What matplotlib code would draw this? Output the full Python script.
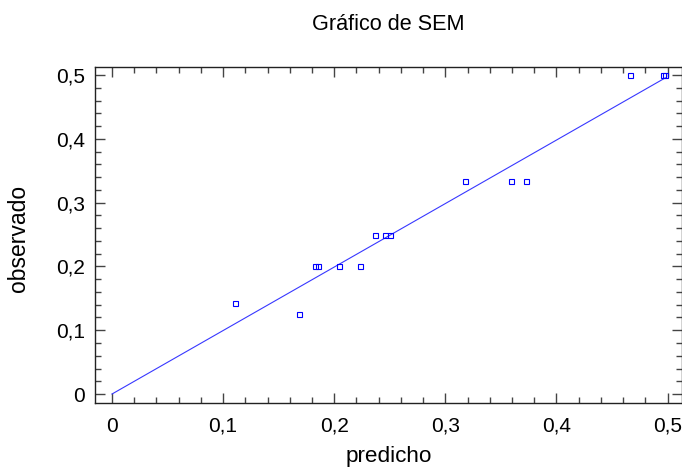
import numpy as np
import matplotlib.pyplot as plt
from matplotlib.ticker import MultipleLocator, FuncFormatter

plt.rcParams['font.family'] = ['Liberation Sans', 'DejaVu Sans']

# valores predichos y observados
predicho = [0.111, 0.1686, 0.183, 0.185, 0.2047, 0.223, 0.2367, 0.2458, 0.2498,
            0.318, 0.359, 0.3727, 0.466, 0.496, 0.498]
observado = [1/7, 0.125, 0.2, 0.2, 0.2, 0.2, 0.25, 0.25, 0.25,
             1/3, 1/3, 1/3, 0.5, 0.5, 0.5]

# recta ajustada
pendiente = 0.995
linea_x = np.array([0, max(predicho)])
linea_y = pendiente * linea_x


def coma(v, pos):
    if abs(v) < 1e-9:
        return "0"
    return ("%.1f" % v).replace(".", ",")


W, H = 682, 467
fig = plt.figure(figsize=(W/100, H/100), dpi=100)
ax = fig.add_axes([95/W, 1 - 402.7/H, (W-95)/W, (402.7-66.7)/H])

ax.plot(linea_x, linea_y, color="#3838ff", lw=0.8)
ax.plot(predicho, observado, ls="none", marker="s", ms=3.6, mfc="none",
        mec="#0000ff", mew=0.8)

ax.set_xlim(-0.0153, 0.513)
ax.set_ylim(-0.0136, 0.513)
ax.xaxis.set_major_locator(MultipleLocator(0.1))
ax.xaxis.set_minor_locator(MultipleLocator(0.02))
ax.yaxis.set_major_locator(MultipleLocator(0.1))
ax.yaxis.set_minor_locator(MultipleLocator(0.02))
ax.xaxis.set_major_formatter(FuncFormatter(coma))
ax.yaxis.set_major_formatter(FuncFormatter(coma))
ax.tick_params(which="both", direction="in", top=True, right=True,
               labelsize=15, color="#444444")
ax.tick_params(which="major", length=7, width=1, pad=7)
ax.tick_params(axis="x", which="major", pad=10)
ax.tick_params(which="minor", length=4, width=1)
for s in ax.spines.values():
    s.set_color("#222222")
    s.set_linewidth(1)

fig.text(389/W, 1 - 462/H, "predicho", fontsize=16.2, ha="center", va="baseline")
fig.text(19/W, 1 - 238/H, "observado", fontsize=16.5, rotation=90,
         ha="center", va="center")
fig.text(388/W, 1 - 30/H, "Gráfico de SEM", fontsize=15.6,
         ha="center", va="baseline")

fig.savefig("out.png", dpi=100)
